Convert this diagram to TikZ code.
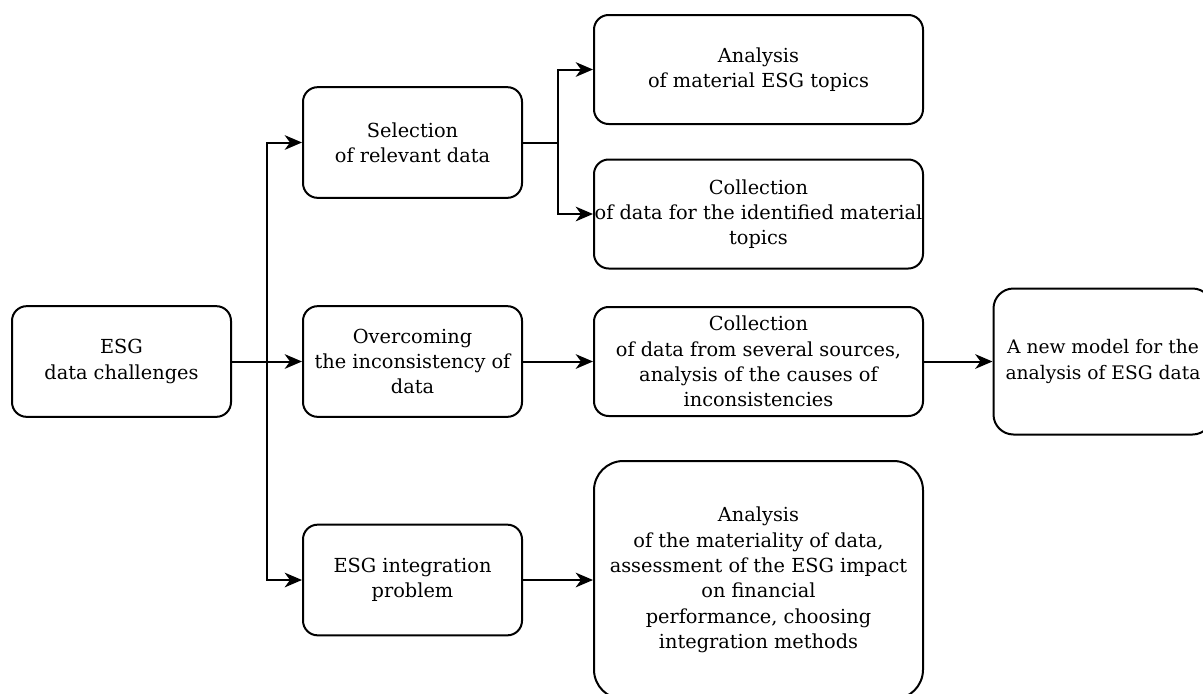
\documentclass[tikz,border=0pt]{standalone}
\usepackage{fontspec}
\setmainfont{DejaVu Serif}
\usetikzlibrary{arrows.meta}
\begin{document}
\begin{tikzpicture}[x=0.75pt,y=-0.75pt,
  box/.style={draw, line width=1.5pt, rounded corners=11pt, align=center,
    inner sep=0pt, minimum width=164.25pt, minimum height=83pt,
    font=\fontsize{14.5pt}{19pt}\selectfont},
  wide/.style={box, minimum width=246.75pt, minimum height=81.75pt},
  arr/.style={line width=1.5pt, -{Stealth[length=13pt,width=11pt,inset=4pt]}},
  ln/.style={line width=1.5pt}]
\useasboundingbox (0,0) rectangle (1203,693);
% left column
\node[box] (esg) at (121.5,361.5) {ESG\\data challenges};
\node[box] (sel) at (412.5,142.5) {Selection\\of relevant data};
\node[box] (over) at (412.5,361.5) {Overcoming\\the inconsistency of\\data};
\node[box] (integ) at (412.5,580) {ESG integration\\problem};
% middle column
\node[wide] (ana) at (758.5,69.5) {Analysis\\of material ESG topics};
\node[wide] (col1) at (758.5,214) {Collection\\of data for the identified material\\topics};
\node[wide] (col2) at (758.5,361.5) {Collection\\of data from several sources,\\analysis of the causes of\\inconsistencies};
\node[wide, minimum height=178.5pt, rounded corners=22pt] (bot) at (758.5,580)
  {Analysis\\of the materiality of data,\\assessment of the ESG impact\\on financial\\performance, choosing\\integration methods};
% right
\node[box, minimum height=109.5pt, rounded corners=15pt,
  font=\fontsize{14pt}{19pt}\selectfont] (fin) at (1103,361.5)
  {A new model for the\\analysis of ESG data};
% junctions
\coordinate (j1) at (267,361.5);
\coordinate (j2) at (558,142.5);
% connectors
\draw[arr] (esg.east) -- (over.west);
\draw[arr] (j1) |- (sel.west);
\draw[arr] (j1) |- (integ.west);
\draw[ln] (sel.east) -- (j2);
\draw[arr] (j2) |- (ana.west);
\draw[arr] (j2) |- (col1.west);
\draw[arr] (over.east) -- (col2.west);
\draw[arr] (col2.east) -- (fin.west);
\draw[arr] (integ.east) -- (bot.west);
\end{tikzpicture}
\end{document}
